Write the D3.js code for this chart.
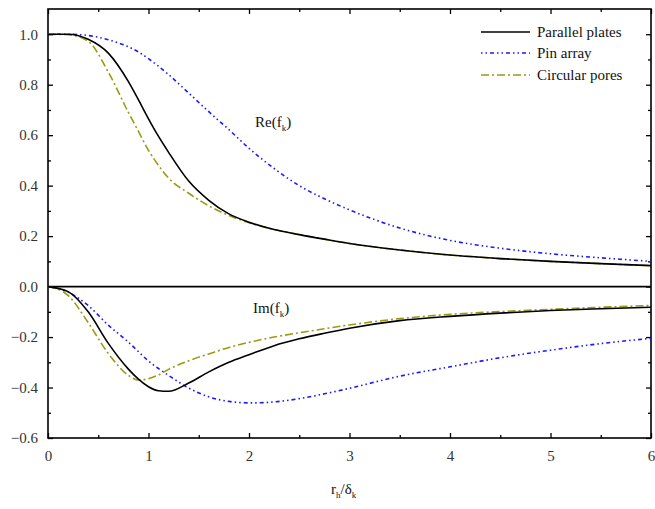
<!DOCTYPE html>
<html>
<head>
<meta charset="utf-8">
<script src="https://cdn.jsdelivr.net/npm/d3@7"></script>
<style>
  body { margin: 0; background: #fff; }
  svg text { font-family: "Times New Roman", "Liberation Serif", serif !important; }
</style>
</head>
<body>
<svg id="chart"></svg>
<script>
// x grid (r_h / delta_k)
const xs = [0, 0.2, 0.4, 0.6, 0.8, 0.9, 1.0, 1.1, 1.2, 1.4, 1.6, 1.8, 2.0, 2.25, 2.5, 2.75, 3, 3.5, 4, 4.5, 5, 5.5, 6];

// real parts
const reParallel = [1, 1.0, 0.98, 0.925, 0.812, 0.74, 0.665, 0.595, 0.532, 0.418, 0.342, 0.288, 0.255, 0.226, 0.206, 0.188, 0.171, 0.145, 0.125, 0.111, 0.1, 0.091, 0.083];
const rePin = [1, 1.0, 0.995, 0.978, 0.95, 0.93, 0.903, 0.873, 0.84, 0.767, 0.693, 0.622, 0.548, 0.468, 0.4, 0.348, 0.304, 0.232, 0.183, 0.152, 0.13, 0.114, 0.1];
const reCircular = [1, 0.998, 0.972, 0.85, 0.69, 0.615, 0.54, 0.48, 0.43, 0.37, 0.32, 0.282, 0.253, 0.226, 0.206, 0.188, 0.171, 0.145, 0.125, 0.111, 0.1, 0.091, 0.083];

// imaginary parts
const imParallel = [0, -0.02, -0.1, -0.225, -0.327, -0.367, -0.397, -0.413, -0.415, -0.382, -0.338, -0.3, -0.27, -0.234, -0.207, -0.185, -0.165, -0.135, -0.118, -0.105, -0.095, -0.088, -0.082];
const imPin = [0, -0.022, -0.075, -0.153, -0.22, -0.258, -0.295, -0.325, -0.352, -0.402, -0.437, -0.455, -0.461, -0.457, -0.444, -0.425, -0.403, -0.355, -0.318, -0.282, -0.252, -0.226, -0.205];
const imCircular = [0, -0.035, -0.143, -0.265, -0.352, -0.37, -0.365, -0.35, -0.328, -0.294, -0.267, -0.241, -0.221, -0.2, -0.183, -0.167, -0.152, -0.127, -0.11, -0.099, -0.09, -0.082, -0.075];

const seriesNames = ['Parallel plates', 'Pin array', 'Circular pores'];
const xTicks = [0, 1, 2, 3, 4, 5, 6];
const yTicks = [-0.6, -0.4, -0.2, 0.0, 0.2, 0.4, 0.6, 0.8, 1.0];

const font = '"Times New Roman", "Liberation Serif", serif';

let width = 655;
let height = 509;
let padLeft = 48, padRight = 651, padTop = 9, padBottom = 438;

let svg = d3.select('#chart')
  .attr('width', width).attr('height', height)
  .attr('font-family', font);

let xScale = d3.scaleLinear().domain([0, 6]).range([padLeft, padRight]);
let yScale = d3.scaleLinear().domain([-0.6, 1.1]).range([padBottom, padTop]);

const styles = [
  { color: '#000000', dash: null, width: 1.6 },
  { color: '#1a1aff', dash: '1.5,3,1.5,3,4,3', width: 1.6 },
  { color: '#9a9a14', dash: '8,3,2,3', width: 1.6 }
];

// axes
let styleAxis = (g) => {
  g.attr('font-family', font);
  g.selectAll('.domain').remove();
  g.selectAll('line').attr('stroke', '#000').attr('stroke-width', 1.3);
  g.selectAll('text').attr('font-size', '15px').attr('fill', '#333');
};

let minorX = d3.range(0.5, 6, 1);
let minorY = d3.range(-0.5, 1.1, 0.2).map(d => Math.round(d * 10) / 10);

svg.append('g').attr('transform', 'translate(0,' + padBottom + ')')
  .call(d3.axisBottom(xScale).tickValues(xTicks).tickFormat(d3.format('d')).tickSize(-5).tickPadding(12))
  .call(styleAxis);
svg.append('g').attr('transform', 'translate(0,' + padBottom + ')')
  .call(d3.axisBottom(xScale).tickValues(minorX).tickFormat('').tickSize(-3))
  .call(styleAxis);
svg.append('g').attr('transform', 'translate(0,' + padTop + ')')
  .call(d3.axisTop(xScale).tickValues(xTicks).tickFormat('').tickSize(-5))
  .call(styleAxis);
svg.append('g').attr('transform', 'translate(0,' + padTop + ')')
  .call(d3.axisTop(xScale).tickValues(minorX).tickFormat('').tickSize(-3))
  .call(styleAxis);

svg.append('g').attr('transform', 'translate(' + padLeft + ',0)')
  .call(d3.axisLeft(yScale).tickValues(yTicks).tickFormat(d3.format('.1f')).tickSize(-5).tickPadding(10))
  .call(styleAxis);
svg.append('g').attr('transform', 'translate(' + padLeft + ',0)')
  .call(d3.axisLeft(yScale).tickValues(minorY).tickFormat('').tickSize(-3))
  .call(styleAxis);
svg.append('g').attr('transform', 'translate(' + padRight + ',0)')
  .call(d3.axisRight(yScale).tickValues(yTicks).tickFormat('').tickSize(-5))
  .call(styleAxis);
svg.append('g').attr('transform', 'translate(' + padRight + ',0)')
  .call(d3.axisRight(yScale).tickValues(minorY).tickFormat('').tickSize(-3))
  .call(styleAxis);

// frame
svg.append('rect')
  .attr('x', padLeft).attr('y', padTop)
  .attr('width', padRight - padLeft).attr('height', padBottom - padTop)
  .attr('fill', 'none').attr('stroke', '#000').attr('stroke-width', 1.6);

// zero line
svg.append('line')
  .attr('x1', padLeft).attr('x2', padRight)
  .attr('y1', yScale(0)).attr('y2', yScale(0))
  .attr('stroke', '#000').attr('stroke-width', 1.6);

// curves
let line = d3.line()
  .x((d) => xScale(d[0]))
  .y((d) => yScale(d[1]))
  .curve(d3.curveMonotoneX);

let curves = [
  [reParallel, 0], [rePin, 1], [reCircular, 2],
  [imParallel, 0], [imPin, 1], [imCircular, 2]
];
// draw pin first, then circular, then parallel on top
[1, 4, 2, 5, 0, 3].forEach((i) => {
  let vals = curves[i][0];
  let st = styles[curves[i][1]];
  svg.append('path')
    .datum(xs.map((x, j) => [x, vals[j]]))
    .attr('d', line)
    .attr('fill', 'none')
    .attr('stroke', st.color)
    .attr('stroke-width', st.width)
    .attr('stroke-dasharray', st.dash);
});

// legend
let legendY = [32, 53, 75];
seriesNames.forEach((name, i) => {
  svg.append('line')
    .attr('x1', 481).attr('x2', 530)
    .attr('y1', legendY[i]).attr('y2', legendY[i])
    .attr('stroke', styles[i].color)
    .attr('stroke-width', 1.4)
    .attr('stroke-dasharray', styles[i].dash);
  svg.append('text')
    .attr('x', 537).attr('y', legendY[i] + 5)
    .attr('font-size', '15px').attr('fill', '#111')
    .text(name);
});

// annotations
let re = svg.append('text').attr('x', 255).attr('y', 127).attr('font-size', '15px').attr('fill', '#111');
re.append('tspan').text('Re(f');
re.append('tspan').attr('font-size', '9px').attr('dy', 4).text('k');
re.append('tspan').attr('dy', -4).text(')');

let im = svg.append('text').attr('x', 253).attr('y', 313).attr('font-size', '15px').attr('fill', '#111');
im.append('tspan').text('Im(f');
im.append('tspan').attr('font-size', '9px').attr('dy', 4).text('k');
im.append('tspan').attr('dy', -4).text(')');

// x axis title
let xt = svg.append('text').attr('x', 331).attr('y', 494).attr('font-size', '15px').attr('fill', '#111');
xt.append('tspan').text('r');
xt.append('tspan').attr('font-size', '9px').attr('dy', 4).text('h');
xt.append('tspan').attr('dy', -4).text('/δ');
xt.append('tspan').attr('font-size', '9px').attr('dy', 4).text('k');
</script>
</body>
</html>
